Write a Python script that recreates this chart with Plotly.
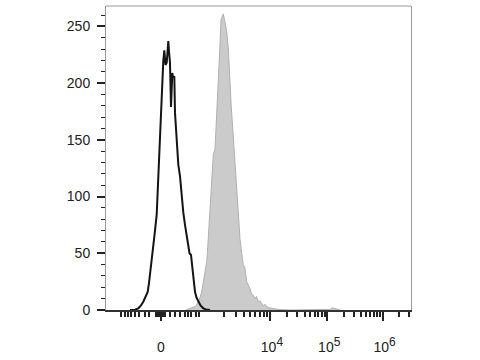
import numpy as np
import plotly.graph_objects as go

# ---- data (x in display channels 0..1000, y = cell counts) ----
ctrl_x = [78.7, 95.1, 105.9, 114.8, 122.3, 129.5, 136.7, 141.0, 144.3, 149.9, 155.1, 160.7,
          166.2, 169.0, 171.5, 174.0, 177.0, 180.3, 183.6, 187.9, 191.2, 193.4, 195.1,
          199.0, 201.6, 204.3, 206.6, 209.8, 213.1, 217.4, 219.7, 224.0, 226.2, 231.8, 237.1,
          242.6, 248.1, 253.4, 259.0, 264.6, 269.8, 273.8, 278.7, 282.0, 286.3, 289.3, 291.8,
          296.7, 302.6, 309.8, 319.0, 327.9, 341.0]
ctrl_y = [0, 0.3, 1.5, 4, 7.3, 11, 16, 24, 31, 42, 54, 70,
          84, 102, 118, 134, 152, 180, 200, 220, 229, 222, 216,
          218, 230, 237, 228, 218, 179, 209, 205, 206, 174, 153, 128,
          118, 98.5, 86, 75, 64, 54, 50, 48.5, 40, 31, 23, 16,
          11, 7.3, 4, 1.5, 0.5, 0]

stain_x = [262.3, 272.1, 282.0, 291.8, 296.7, 302.6, 308.2, 313.8, 319.0, 324.6, 330.2, 332.8,
           335.4, 338.4, 341.0, 346.6, 351.8, 357.4, 363.0, 365.6, 368.2, 371.2, 373.8, 377.0,
           380.3, 384.6, 388.5, 391.8, 395.7, 401.0, 403.9, 406.6, 410.5, 414.1, 417.4, 420.7,
           424.6, 428.5, 433.8, 439.3, 444.9, 450.1, 455.7, 461.3, 466.6, 472.1, 477.1, 483.0,
           488.6, 493.5, 499.3, 504.9, 510.5, 516.4, 521.3, 526.9, 534.4, 544.3, 554.1, 570.5,
           603.3, 734.4, 741.0, 747.5, 754.0, 767.2]
stain_y = [0, 1, 2.5, 3, 4.5, 7.3, 11, 16, 25, 33, 42.6, 52,
           63, 78, 92.6, 115, 137, 142, 172, 183, 195.5, 215, 234, 256,
           258, 261, 256, 250, 245.5, 231, 212, 195.5, 180, 166, 152, 139,
           118, 98.5, 80, 63, 50, 40, 37, 25, 22, 19, 14, 13,
           10, 12, 7.3, 8, 6, 3.5, 5, 3, 2, 1.5, 1, 0.3,
           0, 0.5, 2, 1.5, 0.5, 0]

# ---- axis ticks (display channel positions) ----
label_pos = [180.3, 537.7, 725.6, 907.2]
label_text = ["0",
              "&nbsp;10<sup><span style='font-size:12px'>4</span></sup>",
              "&nbsp;10<sup><span style='font-size:12px'>5</span></sup>",
              "&nbsp;10<sup><span style='font-size:12px'>6</span></sup>"]
unlabeled_major = [39.3, 322.3]
linear_minor = [48.2, 61.3, 72.1, 83.0, 94.1, 109.2, 126.9, 142.0,
                163.9, 168.2, 172.4, 176.0, 184.6, 188.9, 193.1,
                209.8, 227.2, 242.6, 258.0, 268.9, 279.7, 295.1, 303.9]
decades = [322.3, 537.7, 725.6, 907.2]
y_major = [0, 50, 100, 150, 200, 250]

minor = list(linear_minor)
for a, b in zip(decades[:-1], decades[1:]):
    for m in range(2, 10):
        minor.append(a + np.log10(m) * (b - a))
last_w = decades[-1] - decades[-2]
for m in (2, 3):
    minor.append(decades[-1] + np.log10(m) * last_w)

fig = go.Figure()
fig.add_trace(go.Scatter(x=stain_x, y=stain_y, mode="lines", fill="tozeroy",
                         line=dict(color="#b0b0b0", width=1), fillcolor="#cbcbcb",
                         hoverinfo="skip"))
fig.add_trace(go.Scatter(x=ctrl_x, y=ctrl_y, mode="lines",
                         line=dict(color="#141414", width=2), hoverinfo="skip"))

font = dict(family="Liberation Sans, Arial, sans-serif", size=14, color="#222")
fig.update_layout(
    width=480, height=360, autosize=False,
    margin=dict(l=106, r=69, t=6, b=50),
    paper_bgcolor="white", plot_bgcolor="white",
    showlegend=False,
    xaxis=dict(range=[0, 1000], showgrid=False, zeroline=False,
               showline=True, linecolor="#333", linewidth=2,
               tickmode="array", tickvals=label_pos, ticktext=label_text,
               ticks="outside", ticklen=9, tickwidth=2, tickcolor="#222",
               ticklabelstandoff=14, tickfont=font, automargin=False,
               minor=dict(tickmode="array", tickvals=minor, ticks="outside",
                          ticklen=5, tickwidth=1.5, tickcolor="#222")),
    xaxis2=dict(range=[0, 1000], overlaying="x", anchor="y", side="bottom",
                showgrid=False, zeroline=False, showline=False,
                tickmode="array", tickvals=unlabeled_major, showticklabels=False,
                ticks="outside", ticklen=9, tickwidth=2, tickcolor="#222",
                automargin=False),
    yaxis=dict(range=[0, 268], showgrid=False, zeroline=False,
               showline=True, linecolor="#999", linewidth=1, mirror=True,
               tickmode="array", tickvals=y_major,
               ticks="outside", ticklen=8, tickwidth=2, tickcolor="#222",
               ticklabelstandoff=4, tickfont=font, automargin=False,
               minor=dict(dtick=10, ticks="outside", ticklen=4, tickwidth=1.3,
                          tickcolor="#222")),
    shapes=[dict(type="line", xref="paper", yref="paper", x0=0, x1=1, y0=1, y1=1,
                 line=dict(color="#999", width=1))],
)
fig.write_html("out.html")
